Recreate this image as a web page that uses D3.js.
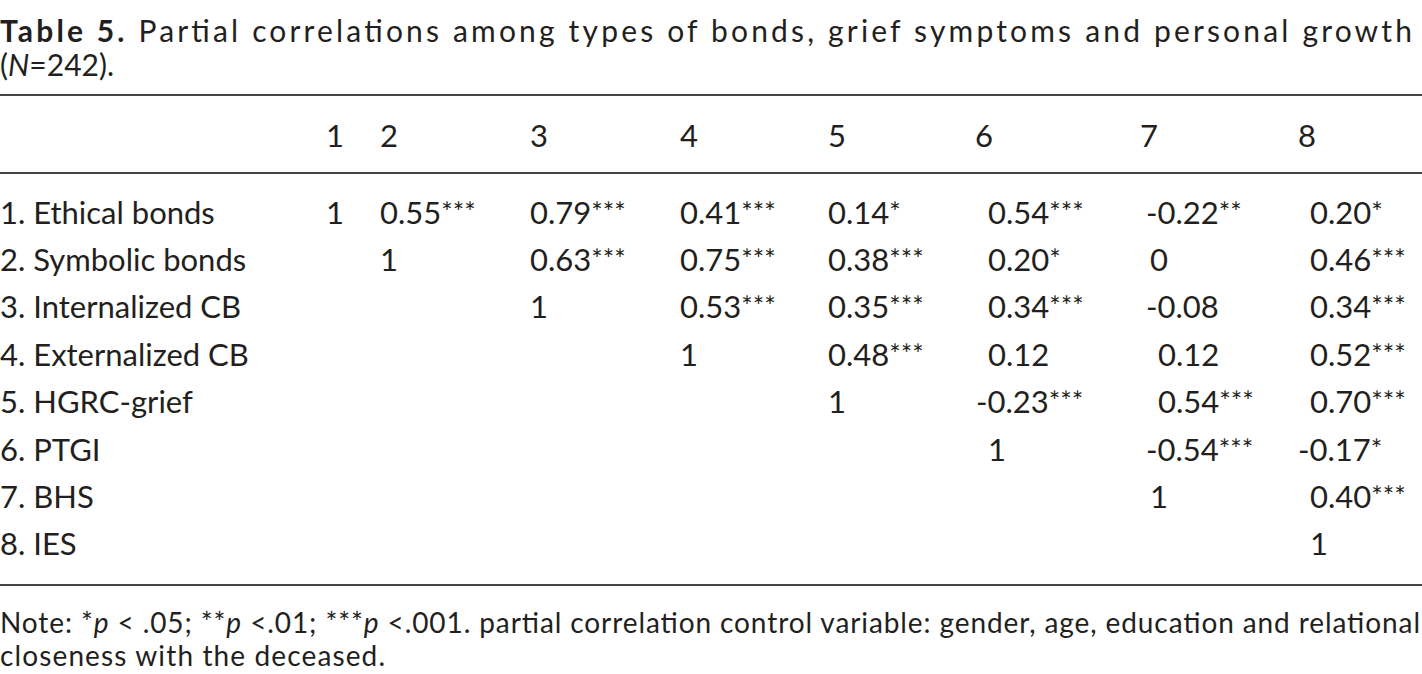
<!DOCTYPE html>
<html><head><meta charset="utf-8">
<script src="https://cdn.jsdelivr.net/npm/d3@7"></script>
<style>body{margin:0;background:#fff}text{font-family:Lato,"Open Sans",sans-serif;fill:#231f20}</style>
</head><body><svg id="c" width="1422" height="674"></svg>
<script>
const headers = ["1","2","3","4","5","6","7","8"];
const rowLabels = ["1. Ethical bonds","2. Symbolic bonds","3. Internalized CB","4. Externalized CB","5. HGRC-grief","6. PTGI","7. BHS","8. IES"];
const values = [
 ["1","0.55","0.79","0.41","0.14","0.54","-0.22","0.20"],
 [null,"1","0.63","0.75","0.38","0.20","0","0.46"],
 [null,null,"1","0.53","0.35","0.34","-0.08","0.34"],
 [null,null,null,"1","0.48","0.12","0.12","0.52"],
 [null,null,null,null,"1","-0.23","0.54","0.70"],
 [null,null,null,null,null,"1","-0.54","-0.17"],
 [null,null,null,null,null,null,"1","0.40"],
 [null,null,null,null,null,null,null,"1"]];
const stars = [
 ["","***","***","***","*","***","**","*"],
 ["","","***","***","***","*","","***"],
 ["","","","***","***","***","","***"],
 ["","","","","***","","","***"],
 ["","","","","","***","***","***"],
 ["","","","","","","***","*"],
 ["","","","","","","","***"],
 ["","","","","","","",""]];
const svg = d3.select("#c");
const headPos = {"1":326,"2":380,"3":530,"4":680,"5":828,"6":975,"7":1140,"8":1298};
const colBase = {"1":326,"2":380,"3":530,"4":680,"5":828,"6":988,"7":1158,"8":1310};
const y = d3.scaleBand().domain(rowLabels).range([189,568]);
const fs = 31;
const t = svg.append("text").attr("x",0).attr("y",42).attr("font-size",30).attr("textLength",1412).attr("lengthAdjust","spacing");
t.append("tspan").attr("font-weight","bold").text("Table 5.");
t.append("tspan").text("  Partial correlations among types of bonds, grief symptoms and personal growth");
const t2 = svg.append("text").attr("x",0).attr("y",76).attr("font-size",30);
t2.append("tspan").text("(");t2.append("tspan").attr("font-style","italic").text("N");t2.append("tspan").text("=242).");
[95,173,585].forEach(v=>svg.append("line").attr("x1",0).attr("x2",1422).attr("y1",v).attr("y2",v).attr("stroke","#444").attr("stroke-width",2));
svg.selectAll(".h").data(headers).join("text").attr("x",d=>headPos[d]).attr("y",147).attr("font-size",fs).text(d=>d);
svg.selectAll(".rl").data(rowLabels).join("text").attr("x",0).attr("y",d=>y(d)+y.bandwidth()/2+11).attr("font-size",fs).text(d=>d);
values.forEach((row,i)=>{
  row.forEach((v,j)=>{
    if(v===null) return;
    const col=headers[j];
    let x=colBase[col];
    if(v.startsWith("-")) x-=12;
    if((v==="0"||v==="1") && col==="7") x-=8;
    const tx=svg.append("text").attr("x",x).attr("y",y(rowLabels[i])+y.bandwidth()/2+11).attr("font-size",fs);
    tx.append("tspan").text(v);
    if(stars[i][j]) tx.append("tspan").attr("font-size",27).attr("dy",-2).text(stars[i][j]);
  });
});
const n = svg.append("text").attr("x",0).attr("y",633).attr("font-size",28).attr("textLength",1420).attr("lengthAdjust","spacing");
n.append("tspan").text("Note: *");n.append("tspan").attr("font-style","italic").text("p");
n.append("tspan").text(" < .05; **");n.append("tspan").attr("font-style","italic").text("p");
n.append("tspan").text(" <.01; ***");n.append("tspan").attr("font-style","italic").text("p");
n.append("tspan").text(" <.001. partial correlation control variable: gender, age, education and relational");
svg.append("text").attr("x",0).attr("y",666).attr("font-size",28).attr("textLength",385).attr("lengthAdjust","spacing").text("closeness with the deceased.");
</script></body></html>
